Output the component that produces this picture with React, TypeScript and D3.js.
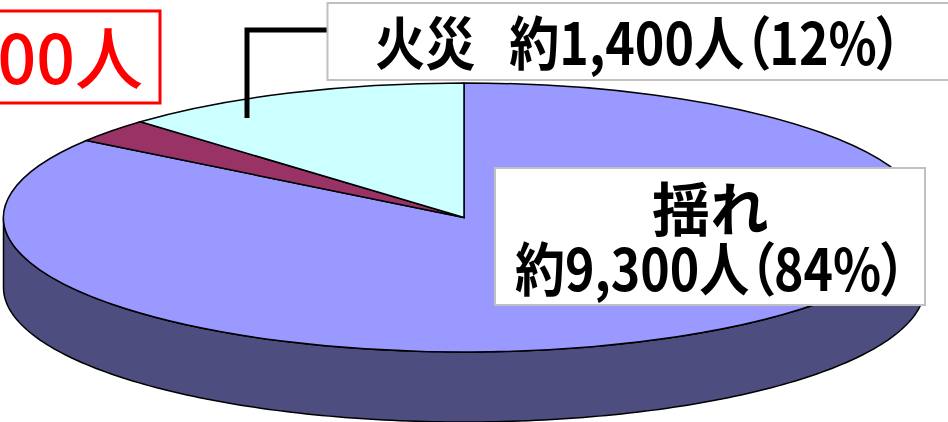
import * as d3 from 'd3';

const categories = ['揺れ', 'その他', '火災'];
const sliceValues = [84.7, 2.9, 12.4];
const sliceColors = ['#9999ff', '#993366', '#ccffff'];
const sideColor = '#4d4d80';

const fireLabel = '火災 約1,400人（12%）';
const shakeLabel = ['揺れ', '約9,300人（84%）'];
const totalLabel = '00人';

const W = 948;
const H = 422;
const FONT = '"Noto Sans CJK JP", "Noto Sans", sans-serif';

const cx = 464;
const cy = 217.5;
const rx = 460.5;
const ry = 134.5;
const depth = 70;

const pie = d3.pie<number>().sort(null).startAngle(0).endAngle(2 * Math.PI);
const arc = d3.arc<d3.PieArcDatum<number>>().innerRadius(0).outerRadius(rx);
const arcs = pie(sliceValues);

// front wall of the disc, half ellipse from right to left
const frontAngles = d3.range(0, 181).map((d) => (d * Math.PI) / 180);
const side = d3.area<number>()
  .x((a) => cx + rx * Math.cos(a))
  .y0((a) => cy + ry * Math.sin(a))
  .y1((a) => cy + ry * Math.sin(a) + depth);

const leader = d3.line()([[327, 30], [247, 30], [247, 118]]);

export default function App() {
  return (
    <svg
      width={W}
      height={H}
      viewBox={`0 0 ${W} ${H}`}
      style={{ position: 'fixed', left: 0, top: 0, background: '#fff', fontFeatureSettings: '"palt"' }}
      fontFamily={FONT}
    >
      <path d={side(frontAngles)!} fill={sideColor} stroke="#000" strokeWidth={1.5} />
      <g transform={`translate(${cx},${cy}) scale(1,${ry / rx})`}>
        {arcs.map((d, i) => (
          <path
            key={categories[i]}
            d={arc(d)!}
            fill={sliceColors[i]}
            stroke="#000"
            strokeWidth={1.5}
            vectorEffect="non-scaling-stroke"
          />
        ))}
      </g>

      <path d={leader!} fill="none" stroke="#000" strokeWidth={5} />

      <rect x={-10} y={11} width={170} height={92} fill="#fff" stroke="#ff0000" strokeWidth={3} />
      <text x={143} y={84} textAnchor="end" fontSize={68} fontWeight={500} fill="#ff0000">
        {totalLabel}
      </text>

      <rect x={327.5} y={3} width={630} height={77} fill="#fff" stroke="#c0c0c0" strokeWidth={2} />
      <text transform="translate(375,65) scale(0.865,1)" fontSize={58} fontWeight={600} fill="#000" wordSpacing={26}>
        {fireLabel}
      </text>

      <rect x={495} y={168} width={430} height={137} fill="#fff" stroke="#c0c0c0" strokeWidth={2} />
      <text x={710} y={231} textAnchor="middle" fontSize={58} fontWeight={600} fill="#000">
        {shakeLabel[0]}
      </text>
      <text transform="translate(515,291) scale(0.862,1)" fontSize={58} fontWeight={600} fill="#000">
        {shakeLabel[1]}
      </text>
    </svg>
  );
}
